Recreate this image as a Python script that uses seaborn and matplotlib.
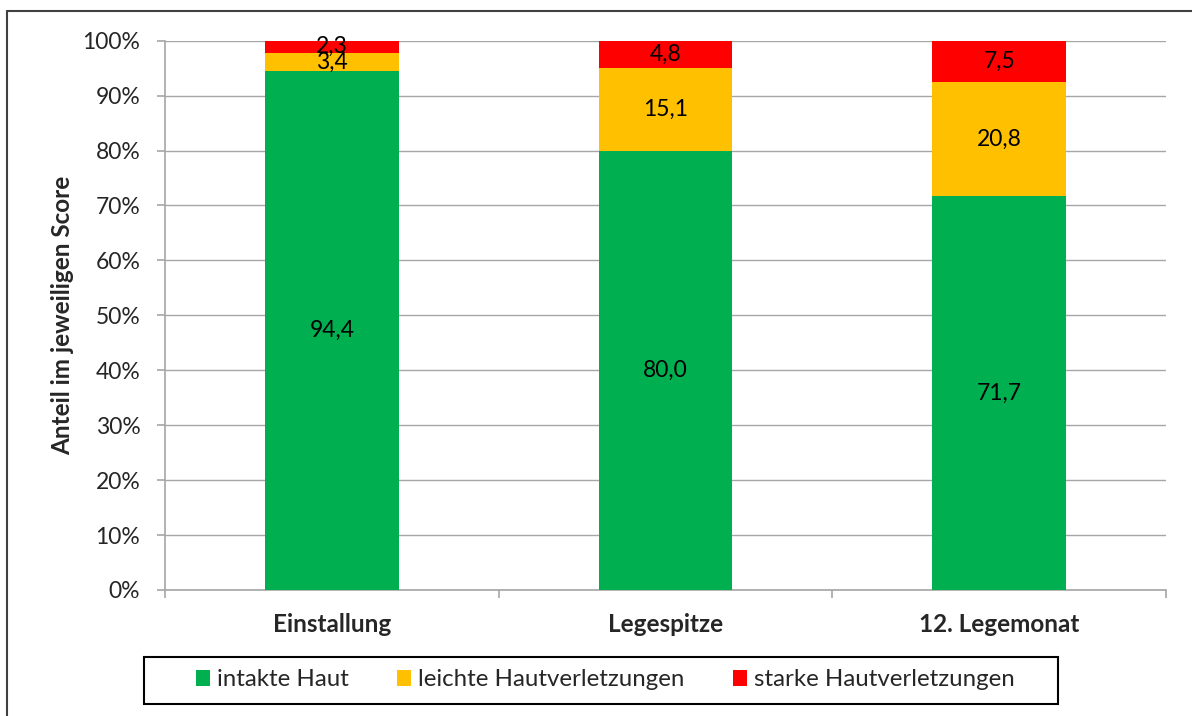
import matplotlib
matplotlib.use("Agg")
import matplotlib.pyplot as plt
from matplotlib.patches import Patch, Rectangle
from matplotlib.lines import Line2D
from matplotlib.ticker import PercentFormatter, FixedLocator
import numpy as np
import pandas as pd
import seaborn as sns

# Anteil der Tiere je Hautscore (%)
zeitpunkte = ["Einstallung", "Legespitze", "12. Legemonat"]
intakte_haut = [94.4, 80.0, 71.7]
leichte_verletzungen = [3.4, 15.1, 20.8]
starke_verletzungen = [2.3, 4.8, 7.5]
serien = ["intakte Haut", "leichte Hautverletzungen", "starke Hautverletzungen"]
farben = ["#00B050", "#FFC000", "#FF0000"]

sns.set_theme(style="white")
plt.rcParams["font.family"] = ["Lato", "DejaVu Sans"]

FS = 16.5        # Achsen- und Wertebeschriftung
FS_BOLD = 17.5   # fette Beschriftungen
FS_LEG = 17.3    # Legende
GRAU = "#A6A6A6"

werte = np.array([intakte_haut, leichte_verletzungen, starke_verletzungen])
untergrenzen = np.vstack([np.zeros(3), np.cumsum(werte, axis=0)[:-1]])
obergrenzen = np.cumsum(werte, axis=0)

df = pd.DataFrame({"Zeitpunkt": zeitpunkte})
for name, oben in zip(serien, obergrenzen):
    df[name] = oben

W, H = 1192, 716
fig = plt.figure(figsize=(W / 100, H / 100), dpi=100)
ax = fig.add_axes([165 / W, 126 / H, 1001 / W, 549.3 / H])

# gestapelte Balken: von oben nach unten übereinander zeichnen
for name, farbe in reversed(list(zip(serien, farben))):
    sns.barplot(data=df, x="Zeitpunkt", y=name, color=farbe, saturation=1,
                width=0.4, linewidth=0, ax=ax, zorder=3)

# Beschriftung der Segmente
for s in range(3):
    for i in range(3):
        v = werte[s, i]
        ax.text(i, untergrenzen[s, i] + v / 2, f"{v:.1f}".replace(".", ","),
                ha="center", va="center", fontsize=FS, color="black", zorder=5)

ax.set_xlim(-0.5, 2.5)
ax.set_ylim(0, 100)
ax.yaxis.set_major_locator(FixedLocator(np.arange(0, 101, 10)))
ax.yaxis.set_major_formatter(PercentFormatter(decimals=0))
ax.grid(axis="y", color=GRAU, linewidth=1.0, zorder=0)
ax.set_axisbelow(True)

for sp in ["top", "right"]:
    ax.spines[sp].set_visible(False)
for sp in ["left", "bottom"]:
    ax.spines[sp].set_color(GRAU)
    ax.spines[sp].set_linewidth(1.2)

ax.xaxis.set_minor_locator(FixedLocator([-0.5, 0.5, 1.5, 2.5]))
ax.tick_params(axis="x", which="major", bottom=True, length=0, pad=16.5,
               labelsize=FS_BOLD)
ax.tick_params(axis="x", which="minor", bottom=True, length=5.8, width=1.2,
               color=GRAU, direction="out")
ax.tick_params(axis="y", which="major", left=True, length=5.8, width=1.2,
               color=GRAU, direction="out", pad=12, labelsize=FS)
for lab in ax.get_xticklabels():
    lab.set_fontweight("bold")

ax.set_xlabel("")
ax.set_ylabel("Anteil im jeweiligen Score", fontsize=FS_BOLD,
              fontweight="bold", labelpad=6)

# Legende mit Rahmen
handles = [Patch(facecolor=f, edgecolor="none") for f in farben]
fig.legend(handles, serien, ncol=3, loc="center",
           bbox_to_anchor=(605.5 / W, 1 - 680 / H), frameon=False,
           fontsize=FS_LEG, handlelength=0.583, handleheight=0.625,
           handletextpad=0.29, columnspacing=2.0)
fig.patches.append(Rectangle((144 / W, (H - 704) / H), 914 / W, 47 / H,
                             transform=fig.transFigure, fill=False,
                             edgecolor="black", linewidth=1.5))

# Rahmen der Grafik
fig.lines.append(Line2D([7 / W, 7 / W], [0, 1 - 10.5 / H],
                        transform=fig.transFigure, color="#404040",
                        linewidth=1.5))
fig.lines.append(Line2D([7 / W, 1], [1 - 10.5 / H, 1 - 10.5 / H],
                        transform=fig.transFigure, color="#404040",
                        linewidth=1.5))

fig.savefig("out.png", dpi=100)
